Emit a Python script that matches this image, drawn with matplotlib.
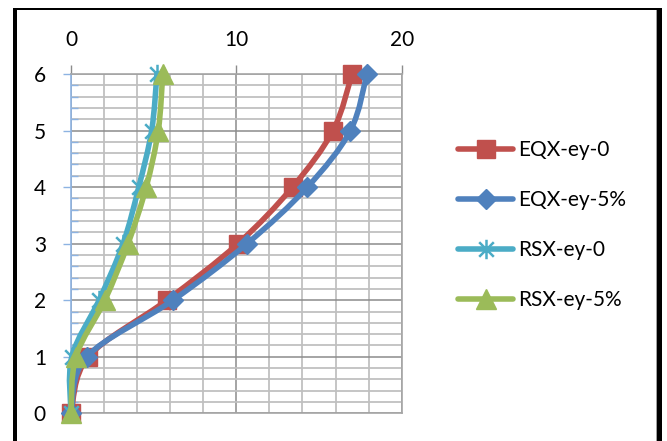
import matplotlib
matplotlib.use("Agg")
import matplotlib.pyplot as plt
from matplotlib.path import Path
from matplotlib.patches import PathPatch, Rectangle
from matplotlib.lines import Line2D
from matplotlib.ticker import MultipleLocator

plt.rcParams['font.family'] = ['Lato', 'DejaVu Sans']

# Storey levels and displacement values per load case
storeys = [0, 1, 2, 3, 4, 5, 6]
eqx_ey_0 = [0, 1.05, 5.8, 10.1, 13.4, 15.85, 17.0]
eqx_ey_5 = [0, 0.95, 6.17, 10.65, 14.3, 16.9, 17.9]
rsx_ey_0 = [0, 0.05, 1.7, 3.15, 4.1, 4.88, 5.2]
rsx_ey_5 = [0, 0.3, 2.05, 3.45, 4.55, 5.28, 5.55]

series_names = ['EQX-ey-0', 'EQX-ey-5%', 'RSX-ey-0', 'RSX-ey-5%']
series_values = [eqx_ey_0, eqx_ey_5, rsx_ey_0, rsx_ey_5]
colors = ['#C0504D', '#4F81BD', '#4BACC6', '#9BBB59']

# six-armed asterisk: vertical bar plus an "x"
star_path = Path(
    [(0, -1), (0, 1), (-0.75, -0.75), (0.75, 0.75), (-0.75, 0.75), (0.75, -0.75)],
    [Path.MOVETO, Path.LINETO, Path.MOVETO, Path.LINETO, Path.MOVETO, Path.LINETO])

markers = ['s', 'D', star_path, '^']
msizes = [13, 10, 14, 14]
edge_widths = [1.0, 1.0, 1.8, 1.0]


def smooth_path(xs, ys):
    """Cubic Bezier path through the points (Catmull-Rom style smoothing)."""
    pts = list(zip(xs, ys))
    n = len(pts)
    verts = [pts[0]]
    codes = [Path.MOVETO]
    for i in range(n - 1):
        p0 = pts[i - 1] if i > 0 else pts[i]
        p1 = pts[i]
        p2 = pts[i + 1]
        p3 = pts[i + 2] if i + 2 < n else pts[i + 1]
        c1 = (p1[0] + (p2[0] - p0[0]) / 6, p1[1] + (p2[1] - p0[1]) / 6)
        c2 = (p2[0] - (p3[0] - p1[0]) / 6, p2[1] - (p3[1] - p1[1]) / 6)
        verts += [c1, c2, p2]
        codes += [Path.CURVE4] * 3
    return Path(verts, codes)


fig = plt.figure(figsize=(6.67, 4.41), dpi=100)
ax = fig.add_axes([0.1064, 0.0628, 0.4958, 0.7694])

ax.set_xlim(0, 20)
ax.set_ylim(0, 6)
ax.xaxis.tick_top()
ax.xaxis.set_label_position('top')
ax.xaxis.set_major_locator(MultipleLocator(10))
ax.xaxis.set_minor_locator(MultipleLocator(2))
ax.yaxis.set_major_locator(MultipleLocator(1))
ax.yaxis.set_minor_locator(MultipleLocator(0.2))

ax.grid(which='major', color='#8c8c8c', linewidth=1.1)
ax.grid(which='minor', color='#c0c0c0', linewidth=1.3)
ax.set_axisbelow(True)

axis_blue = '#8db3e2'
for side in ['top', 'bottom', 'right']:
    ax.spines[side].set_color('#a6a6a6')
    ax.spines[side].set_linewidth(1.2)
ax.spines['left'].set_color(axis_blue)
ax.spines['left'].set_linewidth(1.2)

ax.tick_params(axis='x', which='major', direction='out', length=6.5, width=1,
               color='#8c8c8c', labelsize=15, pad=11)
ax.tick_params(axis='x', which='minor', length=0)
ax.tick_params(axis='y', which='major', direction='out', length=6, width=1,
               color=axis_blue, labelsize=15, pad=12)
ax.tick_params(axis='y', which='minor', direction='in', length=5, width=1,
               color=axis_blue)

handles = []
for k, (name, vals, col, mk, ms, mew) in enumerate(
        zip(series_names, series_values, colors, markers, msizes, edge_widths)):
    z = 3 + 2 * k
    patch = PathPatch(smooth_path(vals, storeys), fill=False, edgecolor=col,
                      linewidth=4, capstyle='round', joinstyle='round',
                      zorder=z, clip_on=False)
    ax.add_patch(patch)
    ax.plot(vals, storeys, linestyle='none', marker=mk, markersize=ms,
            color=col, markeredgecolor=col, markeredgewidth=mew,
            zorder=z + 1, clip_on=False)
    handles.append(Line2D([], [], color=col, linewidth=4, solid_capstyle='round',
                          marker=mk, markersize=ms, markeredgecolor=col,
                          markeredgewidth=mew))

leg = fig.legend(handles, series_names, loc='center left',
                 bbox_to_anchor=(0.659, 0.489), frameon=False, fontsize=15,
                 handlelength=2.64, handletextpad=0.22, labelspacing=1.44,
                 numpoints=1)

# outer frame of the figure
W, H = 667.0, 441.0
fig.add_artist(Rectangle((13 / W, 0), 4 / W, (H - 8) / H,
                         transform=fig.transFigure, color='black', lw=0))
fig.add_artist(Rectangle((13 / W, 1 - 10 / H), (662 - 13) / W, 2 / H,
                         transform=fig.transFigure, color='black', lw=0))
fig.add_artist(Rectangle((657 / W, 0), 5 / W, (H - 8) / H,
                         transform=fig.transFigure, color='black', lw=0))
fig.add_artist(Rectangle((655.5 / W, 0), 1.2 / W, (H - 10) / H,
                         transform=fig.transFigure, color='#a0a0a0', lw=0))

fig.savefig('out.png', dpi=100)
